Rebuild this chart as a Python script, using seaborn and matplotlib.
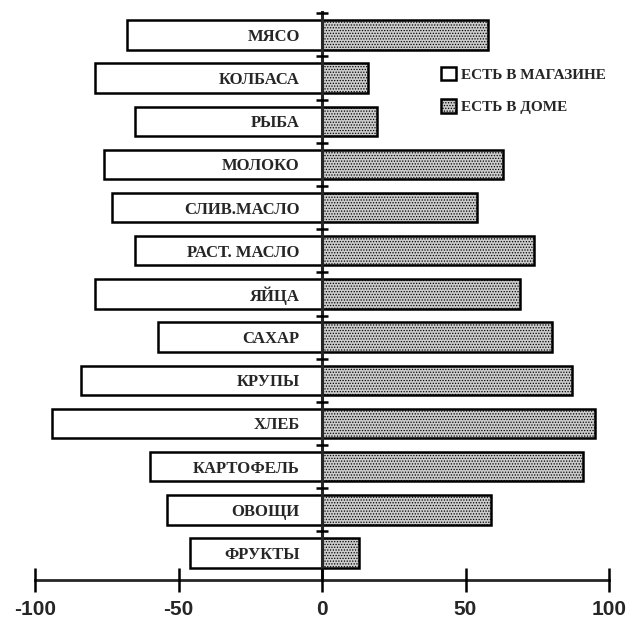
import matplotlib
matplotlib.use("Agg")
import matplotlib.pyplot as plt
import seaborn as sns
import pandas as pd
from matplotlib.patches import Patch

categories = ["МЯСО", "КОЛБАСА", "РЫБА", "МОЛОКО", "СЛИВ.МАСЛО", "РАСТ. МАСЛО",
              "ЯЙЦА", "САХАР", "КРУПЫ", "ХЛЕБ", "КАРТОФЕЛЬ", "ОВОЩИ", "ФРУКТЫ"]
in_store = [68, 79, 65, 76, 73, 65, 79, 57, 84, 94, 60, 54, 46]
at_home = [58, 16, 19, 63, 54, 74, 69, 80, 87, 95, 91, 59, 13]
series_names = ["ЕСТЬ В МАГАЗИНЕ", "ЕСТЬ В ДОМЕ"]
x_ticks = [-100, -50, 0, 50, 100]

sns.set_style("white")
plt.rcParams["hatch.color"] = "black"
plt.rcParams["hatch.linewidth"] = 0.6

df = pd.DataFrame({"cat": categories,
                   "store": [-v for v in in_store],
                   "home": at_home})

fig = plt.figure(figsize=(6.32, 6.19), dpi=100)
ax = fig.add_axes([35 / 632, 39 / 619, 574 / 632, 568 / 619])

sns.barplot(data=df, y="cat", x="store", orient="h", color="white",
            edgecolor="black", linewidth=1.8, width=0.68, ax=ax, saturation=1)
sns.barplot(data=df, y="cat", x="home", orient="h", color="#cccccc",
            edgecolor="black", linewidth=1.8, width=0.68, ax=ax, saturation=1)
n_store = len(categories)
for p in ax.patches[n_store:]:
    p.set_hatch("......")

ax.set_axisbelow(False)
ax.set_xlim(-100, 100)
ax.set_ylim(len(categories) - 1 + 0.625, -0.53)
ax.set_xlabel("")
ax.set_ylabel("")

for s in ["top", "right"]:
    ax.spines[s].set_visible(False)
ax.spines["left"].set_position(("data", 0))
ax.spines["left"].set_linewidth(2.2)
ax.spines["bottom"].set_linewidth(2.0)

ax.set_xticks(x_ticks)
ax.set_xticklabels([str(t) for t in x_ticks])
ax.tick_params(axis="x", which="major", bottom=True, direction="inout",
               length=17, width=1.8, pad=6, labelsize=15, color="black")
for lbl in ax.get_xticklabels():
    lbl.set_fontfamily("Liberation Sans")
    lbl.set_fontweight("bold")

ax.set_yticks(range(len(categories)))
ax.set_yticklabels(categories)
ax.set_yticks([i - 0.5 for i in range(len(categories))], minor=True)
ax.tick_params(axis="y", which="major", left=False, length=0, pad=16,
               labelsize=12)
ax.tick_params(axis="y", which="minor", left=True, direction="inout",
               length=9, width=1.8, color="black")
for lbl in ax.get_yticklabels():
    lbl.set_fontfamily("Liberation Serif")
    lbl.set_fontweight("bold")
    lbl.set_zorder(10)

handles = [Patch(facecolor="white", edgecolor="black", linewidth=1.8),
           Patch(facecolor="#cccccc", edgecolor="black", linewidth=1.8, hatch="......")]
leg = fig.legend(handles, series_names, loc="upper left",
                 bbox_to_anchor=(441 / 632, 1 - 67 / 619), frameon=False,
                 handlelength=0.95, handleheight=0.95, handletextpad=0.35,
                 labelspacing=1.15, borderaxespad=0, borderpad=0,
                 prop={"family": "Liberation Serif", "size": 11, "weight": "bold"})

fig.savefig("out.png", dpi=100)
